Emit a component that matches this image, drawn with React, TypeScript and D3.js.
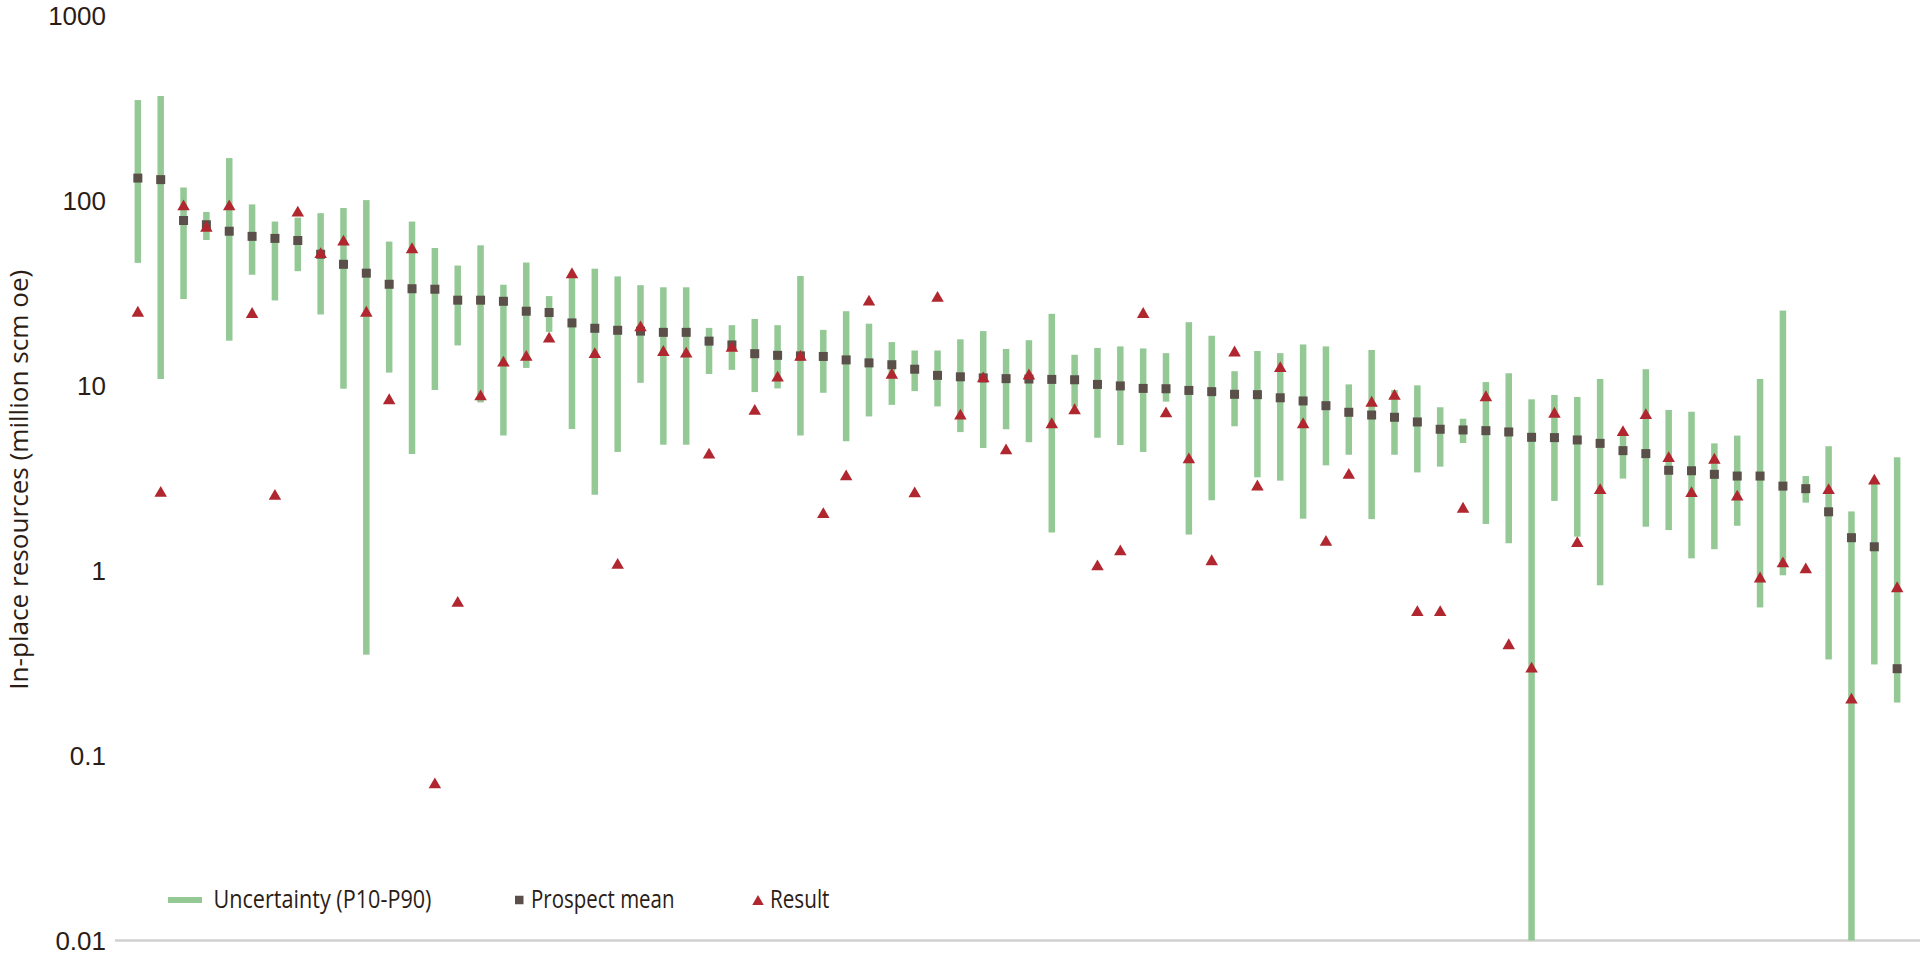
import React, { useEffect, useRef } from "react";
import * as d3 from "d3";

// P10 (high) and P90 (low) ends of the uncertainty bars, million scm oe
const p10 = [
  347, 365, 117, 86.3, 168.7, 94.8, 76.6, 80.4, 85, 90.6, 100, 59.7, 76.6, 55.1, 44.3, 57,
  34.9, 46.0, 30.3, 38.9, 42.6, 38.7, 34.7, 33.8, 33.8, 20.4, 21.1, 22.8, 21.1, 38.9, 19.9, 25.1,
  21.5, 17.1, 15.4, 15.4, 17.7, 19.6, 15.7, 17.5, 24.3, 14.6, 15.9, 16.2, 15.8, 14.9, 21.9, 18.5,
  11.9, 15.3, 14.9, 16.6, 16.2, 10.1, 15.5, 9.42, 9.98, 7.6, 6.59, 10.4, 11.6, 8.39, 8.85, 8.64,
  10.8, 5.4, 12.2, 7.35, 7.19, 4.85, 5.34, 10.8, 25.3, 3.23, 4.68, 2.08, 3.11, 4.08,
];

const p90 = [
  45.8, 10.8, 29.2, 60.9, 17.4, 39.5, 28.7, 41.3, 24.1, 9.57, 0.35, 11.7, 4.25, 9.42, 16.4, 8.07,
  5.35, 12.4, 19.4, 5.8, 2.56, 4.36, 10.3, 4.77, 4.77, 11.5, 12.1, 9.18, 9.61, 5.35, 9.1, 4.98,
  6.78, 7.83, 9.29, 7.68, 5.58, 4.58, 5.78, 4.92, 1.6, 7.65, 5.2, 4.75, 4.36, 8.15, 1.56, 2.39,
  6.0, 3.18, 3.05, 1.9, 3.69, 4.21, 1.89, 4.21, 3.38, 3.63, 4.87, 1.78, 1.4, 0.01, 2.37, 1.52,
  0.83, 3.13, 1.72, 1.65, 1.16, 1.3, 1.74, 0.63, 0.94, 2.32, 0.33, 0.01, 0.31, 0.193,
];

const prospectMean = [
  131.5, 129, 77.6, 73.6, 67.9, 63.7, 62.1, 60.5, 51, 45, 40.3, 35.1, 33.2, 33.0, 28.8, 28.8,
  28.4, 25.1, 24.7, 21.7, 20.3, 19.8, 19.6, 19.3, 19.3, 17.3, 16.5, 14.8, 14.5, 14.4, 14.3, 13.7,
  13.2, 12.9, 12.2, 11.3, 11.1, 10.95, 10.85, 10.8, 10.75, 10.7, 10.1, 9.91, 9.61, 9.57, 9.37, 9.23,
  8.93, 8.89, 8.55, 8.22, 7.75, 7.14, 6.9, 6.71, 6.33, 5.78, 5.73, 5.68, 5.59, 5.23, 5.21, 5.06,
  4.85, 4.43, 4.27, 3.47, 3.45, 3.3, 3.23, 3.23, 2.85, 2.76, 2.07, 1.5, 1.34, 0.294,
];

const result = [
  25.1, 2.67, 94.3, 72.1, 94.3, 24.7, 2.57, 87.1, 52, 60.8, 25.1, 8.45, 55.3, 0.071, 0.68, 8.87,
  13.5, 14.5, 18.2, 40.5, 15.0, 1.09, 20.9, 15.4, 15.1, 4.3, 16.2, 7.41, 11.2, 14.5, 2.05, 3.28,
  28.8, 11.6, 2.65, 30.2, 6.98, 11.1, 4.53, 11.5, 6.27, 7.46, 1.07, 1.29, 24.7, 7.17, 4.05, 1.14,
  15.3, 2.89, 12.6, 6.27, 1.45, 3.34, 8.19, 8.93, 0.605, 0.605, 2.19, 8.77, 0.401, 0.3, 7.14, 1.43,
  2.76, 5.68, 7.02, 4.11, 2.66, 4.03, 2.55, 0.92, 1.11, 1.03, 2.76, 0.204, 3.11, 0.815,
];

const yTicks = [1000, 100, 10, 1, 0.1, 0.01];
const yTitle = "In-place resources (million scm oe)";
const legendLabels = ["Uncertainty (P10-P90)", "Prospect mean", "Result"];

const WIDTH = 1920;
const HEIGHT = 963;
const FONT = "'Open Sans', 'Liberation Sans', sans-serif";
const TICK_FONT = "'Liberation Sans', Arial, sans-serif";
const TEXT = "#2b1d16";
const GREEN = "#94c996";
const SQUARE = "#5a4f49";
const RED = "#b0272f";

const App: React.FC = () => {
  const svgRef = useRef<SVGSVGElement | null>(null);

  useEffect(() => {
    if (!svgRef.current) return;
    const svg = d3.select(svgRef.current);
    svg.selectAll("*").remove();

    const idx = d3.range(prospectMean.length);
    const x = d3.scalePoint<number>().domain(idx).range([115, 1920]).padding(1);
    const y = d3.scaleLog().domain([0.01, 1000]).range([940.5, 15]);

    // Y tick labels (no gridlines)
    svg
      .append("g")
      .selectAll("text")
      .data(yTicks)
      .join("text")
      .attr("x", 106)
      .attr("y", (d) => y(d) + 9.5)
      .attr("text-anchor", "end")
      .attr("font-family", TICK_FONT)
      .attr("font-size", 26)
      .attr("fill", TEXT)
      .text((d) => String(d));

    // Y title
    svg
      .append("text")
      .attr("transform", `translate(28,${(y(1000) + y(0.01)) / 2 + 2}) rotate(-90)`)
      .attr("text-anchor", "middle")
      .attr("font-family", FONT)
      .attr("font-size", 26)
      .attr("fill", TEXT)
      .attr("textLength", 420)
      .attr("lengthAdjust", "spacingAndGlyphs")
      .text(yTitle);

    // Category axis line
    svg
      .append("line")
      .attr("x1", 115)
      .attr("x2", 1920)
      .attr("y1", y(0.01))
      .attr("y2", y(0.01))
      .attr("stroke", "#d0d0d0")
      .attr("stroke-width", 2.5);

    // Uncertainty bars
    const barW = 6.5;
    svg
      .append("g")
      .selectAll("rect")
      .data(idx)
      .join("rect")
      .attr("x", (i) => (x(i) || 0) - barW / 2)
      .attr("y", (i) => y(p10[i]))
      .attr("width", barW)
      .attr("height", (i) => y(p90[i]) - y(p10[i]))
      .attr("fill", GREEN);

    // Prospect mean squares
    const sq = 9;
    svg
      .append("g")
      .selectAll("rect")
      .data(idx)
      .join("rect")
      .attr("x", (i) => (x(i) || 0) - sq / 2)
      .attr("y", (i) => y(prospectMean[i]) - sq / 2)
      .attr("width", sq)
      .attr("height", sq)
      .attr("fill", SQUARE);

    // Result triangles (centroid shifted so the box centre sits on the value)
    const side = 12.5;
    const triH = (side * Math.sqrt(3)) / 2;
    const tri = d3.symbol(d3.symbolTriangle, (Math.sqrt(3) / 4) * side * side);
    svg
      .append("g")
      .selectAll("path")
      .data(idx)
      .join("path")
      .attr("d", tri)
      .attr("transform", (i) => `translate(${x(i)},${y(result[i]) + triH / 6})`)
      .attr("fill", RED);

    // Legend
    const lg = svg.append("g").attr("font-family", FONT).attr("font-size", 26).attr("fill", TEXT);
    const legendY = 900;
    lg.append("rect").attr("x", 168).attr("y", legendY - 3).attr("width", 34).attr("height", 6).attr("fill", GREEN);
    lg.append("rect").attr("x", 515).attr("y", legendY - 4.25).attr("width", 8.5).attr("height", 8.5).attr("fill", SQUARE);
    lg.append("path")
      .attr("d", d3.symbol(d3.symbolTriangle, (Math.sqrt(3) / 4) * 11.5 * 11.5)())
      .attr("transform", `translate(758,${legendY + (11.5 * Math.sqrt(3)) / 12})`)
      .attr("fill", RED);

    const textX = [213.5, 531, 770];
    const textLen = [218, 143.5, 59.5];
    lg.selectAll("text")
      .data(legendLabels)
      .join("text")
      .attr("x", (_, i) => textX[i])
      .attr("y", 908)
      .attr("textLength", (_, i) => textLen[i])
      .attr("lengthAdjust", "spacingAndGlyphs")
      .text((d) => d);
  }, []);

  return (
    <div
      style={{
        position: "fixed",
        left: 0,
        top: 0,
        width: WIDTH,
        height: HEIGHT,
        background: "#ffffff",
      }}
    >
      <svg ref={svgRef} width={WIDTH} height={HEIGHT} style={{ display: "block" }} />
    </div>
  );
};

export default App;
